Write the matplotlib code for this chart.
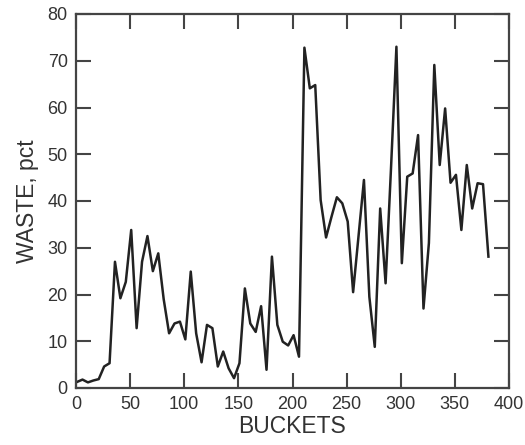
import matplotlib
matplotlib.use("Agg")
import matplotlib.pyplot as plt
import numpy as np

waste = [1.3, 1.8, 1.2, 1.6, 1.9, 4.6, 5.3, 27.0, 19.2, 22.7,
         33.8, 12.8, 27.0, 32.5, 25.0, 28.8, 19.0, 11.7, 13.8, 14.2,
         10.4, 24.9, 11.7, 5.5, 13.5, 12.8, 4.6, 7.8, 4.2, 2.1,
         5.3, 21.3, 13.8, 12.0, 17.5, 3.9, 28.1, 13.5, 9.9, 9.1,
         11.3, 6.7, 72.8, 64.1, 64.8, 40.2, 32.2, 36.6, 40.8, 39.5,
         35.6, 20.5, 32.5, 44.5, 19.5, 8.8, 38.4, 22.4, 47.0, 73.0,
         26.7, 45.2, 45.9, 54.1, 17.0, 31.0, 69.1, 47.7, 59.8, 43.9,
         45.6, 33.8, 47.7, 38.4, 43.8, 43.6, 28.1]
buckets = [1 + 5 * i for i in range(len(waste))]

x_ticks = [0, 50, 100, 150, 200, 250, 300, 350, 400]
y_ticks = [0, 10, 20, 30, 40, 50, 60, 70, 80]

plt.rcParams['font.family'] = ['Liberation Sans', 'DejaVu Sans']
txt = '#333333'
fig = plt.figure(figsize=(5.25, 4.45), dpi=100)
ax = fig.add_axes([76/525, 1-388/445, (509-76)/525, (388-14)/445])
ax.plot(buckets, waste, color='#222222', lw=1.8)
ax.set_xlim(0, 400)
ax.set_ylim(0, 80)
ax.set_xticks(x_ticks)
ax.set_yticks(y_ticks)
ax.tick_params(direction='in', length=11, width=1.5, top=True, right=True,
               labelsize=13, colors='#444444', labelcolor=txt, pad=6)
for s in ax.spines.values():
    s.set_linewidth(1.6)
    s.set_color('#444444')
ax.set_xlabel('BUCKETS', fontsize=16.5, color=txt, labelpad=1)
ax.set_ylabel('WASTE, pct', fontsize=16.5, color=txt, labelpad=6)
fig.savefig('out.png', dpi=100)
